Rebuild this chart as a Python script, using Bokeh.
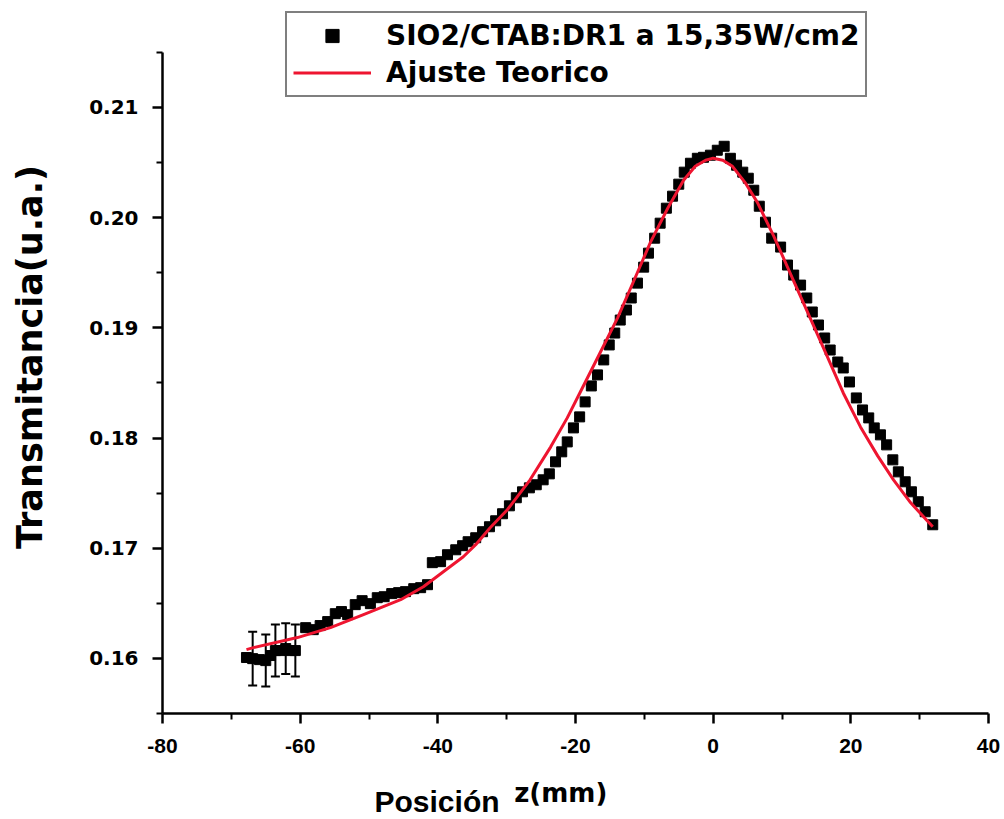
from bokeh.plotting import figure
from bokeh.models import (ColumnDataSource, FixedTicker, PrintfTickFormatter,
                          Legend, LegendItem, Label, Range1d)
from bokeh.embed import file_html
from bokeh.resources import INLINE

# ---- data ----
z_mm = [-67.8, -66.9, -65.9, -65.0, -64.3, -63.6, -62.9, -62.1, -61.4, -60.7,
        -59.2, -58.1, -57.1, -56.0, -54.9, -54.0, -53.1, -52.0, -51.0, -49.8,
        -48.8, -47.8, -46.7, -45.7, -44.7, -43.5, -42.5, -41.5,
        -40.8, -39.6, -38.6, -37.4, -36.4, -35.6, -34.5, -33.5, -32.5, -31.6,
        -30.6, -29.6, -28.6, -27.7, -26.7, -25.7, -24.7, -23.8, -22.9, -22.0,
        -21.2, -20.3, -19.4, -18.6, -17.7, -16.8, -15.9,
        -15.1, -14.3, -13.5, -12.6, -11.9, -11.0, -10.1, -9.4, -8.5, -7.7,
        -6.8, -5.9, -5.0, -4.2, -3.3, -2.3, -1.4, -0.4, 0.6, 1.6,
        2.5, 3.4, 4.3, 5.1, 5.9, 6.7, 7.6, 8.5, 9.8, 10.8,
        11.7, 12.7, 13.6, 14.4, 15.3, 16.2, 17.0, 18.1, 18.9, 19.8,
        20.8, 21.7, 22.6, 23.4, 24.3, 25.2, 26.1, 26.9, 27.9, 28.8,
        29.8, 30.8, 31.9]
transmitancia = [0.16008, 0.15998, 0.15989, 0.15980, 0.16026, 0.16071, 0.16071, 0.16089, 0.16071, 0.16071,
                 0.16279, 0.16261, 0.16298, 0.16334, 0.16406, 0.16425, 0.16397, 0.16488, 0.16524, 0.16497,
                 0.16551, 0.16560, 0.16588, 0.16597, 0.16606, 0.16633, 0.16642, 0.16669,
                 0.16869, 0.16878, 0.16941, 0.16986, 0.17023, 0.17059, 0.17095, 0.17150, 0.17195, 0.17249,
                 0.17313, 0.17385, 0.17458, 0.17512, 0.17548, 0.17576, 0.17621, 0.17675, 0.17784, 0.17875,
                 0.17965, 0.18092, 0.18192, 0.18328, 0.18473, 0.18573, 0.18709,
                 0.18845, 0.18953, 0.19071, 0.19162, 0.19271, 0.19406, 0.19551, 0.19678, 0.19814, 0.19950,
                 0.20086, 0.20195, 0.20304, 0.20413, 0.20494, 0.20539, 0.20548, 0.20567, 0.20612, 0.20648,
                 0.20539, 0.20476, 0.20413, 0.20358, 0.20249, 0.20104, 0.19959, 0.19814, 0.19733, 0.19570,
                 0.19479, 0.19388, 0.19271, 0.19144, 0.19026, 0.18908, 0.18799, 0.18690, 0.18636, 0.18509,
                 0.18364, 0.18255, 0.18183, 0.18092, 0.18029, 0.17938, 0.17802, 0.17693, 0.17603, 0.17512,
                 0.17422, 0.17331, 0.17213]

# error bars (first points)
err_z = [-66.9, -65.0, -63.6, -62.1, -60.7]
err_t = [0.15998, 0.15980, 0.16071, 0.16089, 0.16071]
err_half = [0.00245, 0.00236, 0.00236, 0.00231, 0.00236]

# theoretical fit curve
fit_z = [-67.8, -66.8, -60.4, -55.6, -50.8, -45.4, -42.1, -39.2, -36.3, -34.5,
         -32.4, -29.9, -26.6, -23.6, -21.2, -19.3, -17.1, -13.9, -11.6, -9.1,
         -6.6, -4.3, -2.6, -1.1, 0.0, 1.4, 2.8, 4.7, 6.4, 8.8,
         11.7, 14.1, 16.6, 18.9, 21.4, 23.9, 26.2, 28.7, 31.9]
fit_t = [0.16080, 0.16098, 0.16189, 0.16279, 0.16397, 0.16533, 0.16651, 0.16787, 0.16923, 0.17032,
         0.17186, 0.17349, 0.17621, 0.17920, 0.18183, 0.18418, 0.18690, 0.19089, 0.19416, 0.19778,
         0.20086, 0.20340, 0.20466, 0.20521, 0.20540, 0.20521, 0.20466, 0.20313, 0.20141, 0.19833,
         0.19425, 0.19089, 0.18736, 0.18409, 0.18101, 0.17838, 0.17621, 0.17412, 0.17195]

x_ticks = [-80, -60, -40, -20, 0, 20, 40]
x_tick_labels = ["-80", "-60", "-40", "-20", "0", "20", "40"]
x_minor = [-70, -50, -30, -10, 10, 30]
y_ticks = [0.16, 0.17, 0.18, 0.19, 0.20, 0.21]
y_minor = [0.155, 0.165, 0.175, 0.185, 0.195, 0.205, 0.215]
y_axis_bounds = (0.155, 0.215)

legend_data = "SIO2/CTAB:DR1 a 15,35W/cm2"
legend_fit = "Ajuste Teorico"
x_title_main = "Posición"
x_title_unit = "z(mm)"
y_title = "Transmitancia(u.a.)"

# ---- figure ----
p = figure(width=1000, height=818, output_backend="svg", toolbar_location=None,
           x_range=Range1d(-80, 40), y_range=Range1d(0.155, 0.21971),
           min_border_left=162, min_border_right=12, min_border_top=0, min_border_bottom=104)
p.outline_line_color = None
p.xgrid.visible = False
p.ygrid.visible = False
p.background_fill_color = "white"
p.border_fill_color = "white"

src = ColumnDataSource(dict(z=z_mm, t=transmitancia))
err_src = ColumnDataSource(dict(z=err_z,
                                lo=[c - h for c, h in zip(err_t, err_half)],
                                hi=[c + h for c, h in zip(err_t, err_half)]))
fit_src = ColumnDataSource(dict(z=fit_z, t=fit_t))

sc = p.scatter("z", "t", source=src, marker="square", size=10,
               fill_color="black", line_color="black")
p.segment(x0="z", y0="lo", x1="z", y1="hi", source=err_src, line_color="black", line_width=2)
p.scatter("z", "hi", source=err_src, marker="dash", size=9, line_color="black", line_width=2)
p.scatter("z", "lo", source=err_src, marker="dash", size=9, line_color="black", line_width=2)
ln = p.line("z", "t", source=fit_src, line_color="#ee1530", line_width=3, line_join="round")

# axes
for ax in (p.xaxis[0], p.yaxis[0]):
    ax.axis_line_width = 2.5
    ax.axis_line_color = "black"
    ax.major_tick_line_width = 2.5
    ax.major_tick_line_color = "black"
    ax.major_tick_out = 10
    ax.major_tick_in = 0
    ax.minor_tick_line_width = 2
    ax.minor_tick_line_color = "black"
    ax.minor_tick_out = 6
    ax.minor_tick_in = 0
    ax.major_label_text_color = "black"
    ax.major_label_text_font_style = "bold"

p.xaxis.ticker = FixedTicker(ticks=x_ticks, minor_ticks=x_minor)
p.xaxis.major_label_overrides = {t: s for t, s in zip(x_ticks, x_tick_labels)}
p.xaxis.major_label_text_font = "Liberation Sans"
p.xaxis.major_label_text_font_size = "21px"
p.xaxis.major_label_standoff = 15

p.yaxis.ticker = FixedTicker(ticks=y_ticks, minor_ticks=y_minor)
p.yaxis.bounds = y_axis_bounds
p.yaxis.formatter = PrintfTickFormatter(format="%.2f")
p.yaxis.major_label_text_font = "DejaVu Sans"
p.yaxis.major_label_text_font_size = "20px"
p.yaxis.major_label_standoff = 14
p.yaxis.axis_label = y_title
p.yaxis.axis_label_text_font = "DejaVu Sans"
p.yaxis.axis_label_text_font_style = "bold"
p.yaxis.axis_label_text_font_size = "35px"
p.yaxis.axis_label_text_color = "black"
p.yaxis.axis_label_standoff = 36

# x axis title in two sizes, placed in the bottom panel (positions in data units)
p.add_layout(Label(x=-49.2, y=0.14703, text=x_title_main,
                   text_font="Liberation Sans", text_font_style="bold", text_font_size="30px",
                   text_color="black", text_baseline="alphabetic"), "below")
p.add_layout(Label(x=-28.9, y=0.14775, text=x_title_unit,
                   text_font="DejaVu Sans", text_font_style="bold", text_font_size="26px",
                   text_color="black", text_baseline="alphabetic"), "below")

legend = Legend(items=[LegendItem(label=legend_data, renderers=[sc]),
                       LegendItem(label=legend_fit, renderers=[ln])],
                location=(123, 616))
legend.border_line_color = "black"
legend.border_line_width = 2
legend.background_fill_color = "white"
legend.background_fill_alpha = 1
legend.padding = 6
legend.spacing = 4
legend.margin = 0
legend.glyph_width = 78
legend.glyph_height = 33
legend.label_standoff = 15
legend.label_height = 33
legend.label_text_font = "DejaVu Sans"
legend.label_text_font_style = "bold"
legend.label_text_font_size = "28px"
legend.label_text_color = "black"
p.add_layout(legend, "center")

open("out.html", "w").write(file_html(p, INLINE))
